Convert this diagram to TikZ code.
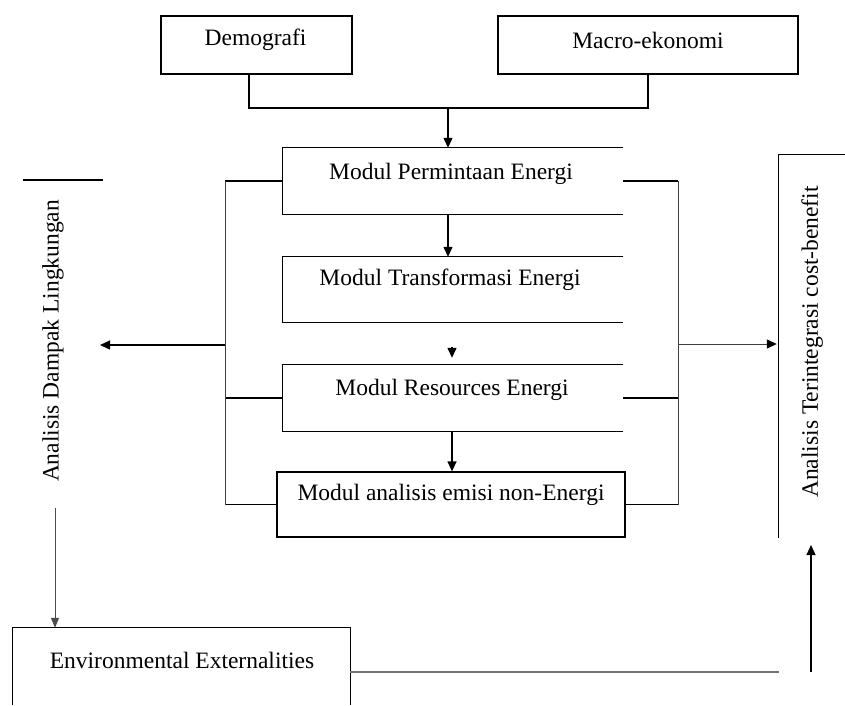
\documentclass[tikz,border=0pt]{standalone}
\usepackage{fontspec}
\setmainfont{Liberation Serif}
\usetikzlibrary{arrows.meta,calc}
\begin{document}
\begin{tikzpicture}[x=1pt,y=-1pt,
  line/.style={line width=1.3pt},
  thin line/.style={line width=0.9pt, black!75},
  arr/.style={line width=1.3pt,-{Triangle[length=10pt,width=9pt]}},
  thin arr/.style={line width=0.8pt, black!70,-{Triangle[length=10pt,width=8pt]}},
  lbl/.style={font=\fontsize{23.5}{28}\selectfont, inner sep=0pt},
  frame/.style={draw=none, inner sep=0pt}]
\useasboundingbox (0,0) rectangle (845,705);

% top boxes
\node[frame, draw, line width=1.3pt, minimum width=191pt, minimum height=58pt] (demo) at (256.5,45) {};
\node[lbl] (demot) at (255.5,40) {Demografi};
\node[frame, draw, line width=1.3pt, minimum width=300pt, minimum height=58pt] (macro) at (648,45) {};
\node[lbl] (macrot) at (648,40) {Macro-ekonomi};

% module frames
\node[frame, minimum width=340pt, minimum height=66pt] (perm) at (453,181) {};
\node[frame, minimum width=340pt, minimum height=65pt] (trans) at (453,289.5) {};
\node[frame, minimum width=340pt, minimum height=66pt] (res) at (453,398) {};
\node[frame, draw, line width=1.3pt, minimum width=348pt, minimum height=65pt] (anal) at (451,504.5) {};

\foreach \b in {perm,trans,res}
  \draw[line] (\b.north east) -- (\b.north west) -- (\b.south west) -- (\b.south east);

\node[lbl] (permt) at (451,174) {Modul Permintaan Energi};
\node[lbl] (transt) at (450,280) {Modul Transformasi Energi};
\node[lbl] (rest) at (452,390) {Modul Resources Energi};
\node[lbl] (analt) at (451,495) {Modul analisis emisi non-Energi};

% joining top boxes
\coordinate (dstem) at (249,74);
\coordinate (mstem) at (648,74);
\coordinate (join) at (448,108);
\coordinate (cx) at (448,0);
\coordinate (rx) at (452,0);
\draw[line] (dstem) |- (join) -| (mstem);
\draw[arr] (join) -- (perm.north -| cx);
\draw[arr] (perm.south -| cx) -- (trans.north -| cx);
\draw[arr] ($(res.north -| rx)+(0,-18)$) -- ($(res.north -| rx)+(0,-7)$);
\draw[arr] (res.south -| rx) -- (anal.north -| rx);

% left bus
\coordinate (lb) at (225,0);
\draw[line] (perm.west) -- (perm.west -| lb);
\draw[line] (res.west) -- (res.west -| lb);
\draw[line] (anal.west) -- (anal.west -| lb);
\draw[thin line] (perm.west -| lb) -- (anal.west -| lb);
\coordinate (lbm) at (225,345);
\coordinate (ltip) at (100,345);
\draw[arr] (lbm) -- (ltip);

% right bus
\coordinate (rb) at (678,0);
\draw[line] (perm.east) -- (perm.east -| rb);
\draw[line] (res.east) -- (res.east -| rb);
\draw[line] (anal.east) -- (anal.east -| rb);
\draw[thin line] (perm.east -| rb) -- (anal.east -| rb);

% left side: environmental impact
\coordinate (lt1) at (23,180);
\coordinate (lt2) at (103,180);
\draw[line] (lt1) -- (lt2);
\node[lbl, rotate=90] (envimp) at (53,341) {Analisis Dampak Lingkungan};

\node[frame, minimum width=337pt, minimum height=77pt] (env) at (181.5,666.5) {};
\draw[line] (env.south west) -- (env.north west) -- (env.north east) -- (env.south east);
\node[lbl] (envt) at (182,660) {Environmental Externalities};
\coordinate (ld) at (55,508);
\draw[thin arr] (ld) -- (ld |- env.north);

% right side: cost-benefit
\node[frame, minimum width=66pt, minimum height=383pt] (cb) at (812,346.5) {};
\draw[line] (cb.north east) -- (cb.north west) -- (cb.south west);
\node[lbl, rotate=90] (cbt) at (812,342) {Analisis Terintegrasi cost-benefit};
\coordinate (rbm) at (678,344);
\draw[thin line] (rbm) -- ($(cb.west |- rbm)+(-10,0)$);
\draw[arr] ($(cb.west |- rbm)+(-12,0)$) -- ($(cb.west |- rbm)+(-2,0)$);

\coordinate (eh) at (350,672);
\coordinate (up) at (811,672);
\draw[line, black!55] (eh) -- (cb.west |- eh);
\draw[arr] (up) -- (811,545);
\end{tikzpicture}
\end{document}
